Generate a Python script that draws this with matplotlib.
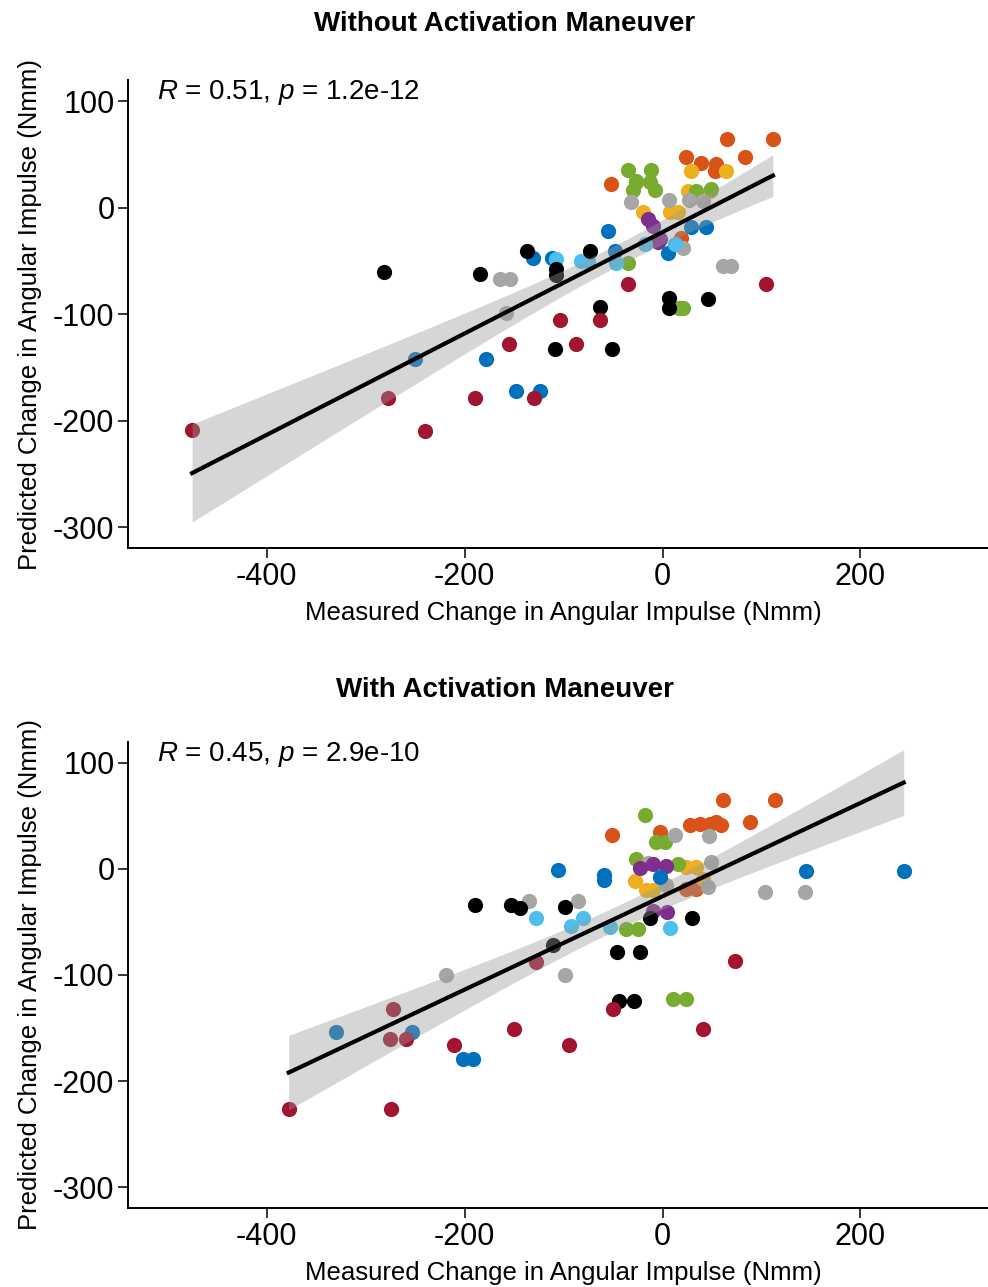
import numpy as np
import matplotlib
matplotlib.use("Agg")
import matplotlib.pyplot as plt

plt.rcParams['font.family'] = 'Liberation Sans'
plt.rcParams['mathtext.fontset'] = 'custom'
plt.rcParams['mathtext.rm'] = 'Liberation Sans'
plt.rcParams['mathtext.it'] = 'Liberation Sans:italic'
plt.rcParams['axes.unicode_minus'] = False

# colores por sujeto (paleta tipo MATLAB)
colores = {
    'naranja': '#D95319', 'amarillo': '#EDB120', 'verde': '#77AC30',
    'gris': '#A6A6A6', 'morado': '#7E2F8E', 'azul': '#0072BD',
    'celeste': '#4DBEEE', 'negro': '#000000', 'rojo': '#A2142F',
}

# ---- Sin maniobra de activacion ----
sin_x = {
    'naranja': [-51.9, 65.4, 111.5, 23.3, 39.1, 54.3, 82.9, 52.6, -26.6, 18.9],
    'amarillo': [28.3, 63.7, 25.6, 47.5, -19.9, 7.1, 15.5],
    'verde': [-35.1, -12.1, -26.6, -30.0, -13.1, -8.1, 34.1, 49.2, -35.1, 20.5, 17.0],
    'gris': [-31.6, 6.4, 26.6, 40.7, 20.5, 61.0, 69.5, -164.8, -154.7, -158.7],
    'morado': [-14.9, -9.8, -3.0, -4.8],
    'azul': [-55.3, -48.5, 5.4, 29.0, 44.2, -131.1, -111.5, -178.3, -147.9, -124.4, -250.0],
    'celeste': [-107.5, -82.2, -75.5, -46.8, -18.2, 12.1],
    'negro': [-136.8, -185.0, -73.8, -108.2, -108.2, -63.0, 6.4, 6.4, 45.8, -109.2, -50.9, -281.1],
    'rojo': [-35.1, 104.9, -103.4, -63.0, -155.7, -87.3, -189.4, -130.4, -240.6, -475.5, -277.8],
}
sin_y = {
    'naranja': [22.3, 64.7, 64.7, 48.0, 41.7, 41.1, 47.3, 34.8, 23.8, -28.0],
    'amarillo': [34.8, 34.8, 16.0, 16.0, -4.4, -4.4, -4.4],
    'verde': [35.5, 35.5, 25.4, 16.7, 23.8, 16.7, 16.0, 17.6, -52.4, -93.8, -93.8],
    'gris': [5.0, 7.2, 7.2, 6.6, -37.4, -54.6, -54.6, -67.1, -67.1, -98.5],
    'morado': [-10.6, -16.9, -29.5, -32.6],
    'azul': [-21.6, -40.5, -42.1, -18.5, -18.5, -47.3, -47.3, -141.8, -172.2, -172.2, -141.8],
    'celeste': [-48.3, -49.9, -49.9, -51.5, -34.2, -34.2],
    'negro': [-40.5, -62.4, -40.5, -57.7, -63.1, -93.2, -84.4, -93.8, -85.9, -133.0, -133.0, -60.0],
    'rojo': [-71.8, -71.8, -105.4, -105.7, -127.7, -127.7, -178.5, -178.5, -209.9, -209.2, -179.1],
}

# ---- Con maniobra de activacion ----
con_x = {
    'naranja': [-50.9, 60.7, 113.2, 88.0, 27.3, 37.4, 47.5, 54.3, 59.4, -3.0, 24.0, 34.0],
    'amarillo': [-28.3, -16.5, -9.8, 24.0, 34.0, 40.7],
    'verde': [-18.2, -6.4, 2.0, -26.6, 15.5, -36.7, -25.0, 10.4, 24.0],
    'gris': [12.1, 46.8, -14.9, 48.5, 45.8, 3.7, 103.8, 143.6, -135.2, -85.6, -218.7, -99.1],
    'morado': [-23.3, -9.8, 3.7, -9.8, 4.3],
    'azul': [-105.9, -59.4, -59.4, -3.0, -201.9, -191.8, 145.3, 243.7, -329.9, -253.1],
    'celeste': [-128.4, -92.3, -80.6, -53.6, 7.1],
    'negro': [-190.1, -153.0, -144.6, -99.1, -13.1, 30.0, -46.2, -23.3, -44.2, -29.0, -110.9],
    'rojo': [72.8, -127.7, -50.3, 40.7, -150.3, -211.3, -94.7, -272.7, -276.0, -259.2, -377.9, -274.3],
}
con_y = {
    'naranja': [32.4, 65.3, 65.3, 44.0, 41.0, 42.5, 42.5, 44.0, 41.0, 34.5, -18.8, -18.8],
    'amarillo': [-11.6, -20.3, -20.3, 1.6, 1.6, -9.4],
    'verde': [51.2, 25.1, 25.1, 9.4, 4.7, -57.0, -57.0, -122.4, -122.4],
    'gris': [32.0, 31.4, 5.4, 6.3, -17.2, -15.6, -21.9, -21.9, -29.8, -29.8, -99.8, -99.8],
    'morado': [0.7, 4.7, 3.2, -40.1, -40.8],
    'azul': [-0.9, -6.0, -10.0, -7.2, -178.8, -178.8, -2.2, -2.2, -153.7, -153.7],
    'celeste': [-46.4, -53.9, -46.4, -54.8, -55.5],
    'negro': [-34.4, -34.4, -37.0, -36.0, -46.4, -46.4, -78.4, -78.4, -124.8, -124.8, -72.1],
    'rojo': [-87.2, -87.8, -131.8, -151.2, -151.2, -165.6, -165.6, -131.8, -160.6, -160.6, -226.4, -226.4],
}

titulos = ['Without Activation Maneuver', 'With Activation Maneuver']
etiquetas = [r'$\it{R}$ = 0.51, $\it{p}$ = 1.2e-12', r'$\it{R}$ = 0.45, $\it{p}$ = 2.9e-10']

fig = plt.figure(figsize=(9.88, 12.87), dpi=100)
W, H = 988, 1287
paneles = [(128.3, 80, 999, 548.3), (128.3, 741.7, 999, 1208.3)]
titulo_y = [24, 690]

for i, (dx, dy) in enumerate([(sin_x, sin_y), (con_x, con_y)]):
    l, t, r, b = paneles[i]
    ax = fig.add_axes([l / W, 1 - b / H, (r - l) / W, (b - t) / H])
    todos_x, todos_y = [], []
    for c in colores:
        ax.scatter(dx[c], dy[c], s=120, color=colores[c], linewidths=0, zorder=2)
        todos_x += dx[c]
        todos_y += dy[c]
    x = np.array(todos_x)
    y = np.array(todos_y)

    # recta de regresion con intervalo de confianza del 95%
    n = len(x)
    m, b0 = np.polyfit(x, y, 1)
    xs = np.linspace(x.min(), x.max(), 100)
    ys = m * xs + b0
    resid = y - (m * x + b0)
    s = np.sqrt(np.sum(resid ** 2) / (n - 2))
    se = s * np.sqrt(1 / n + (xs - x.mean()) ** 2 / np.sum((x - x.mean()) ** 2))
    tval = 1.99
    ax.fill_between(xs, ys - tval * se, ys + tval * se, color='#999999', alpha=0.4,
                    linewidth=0, zorder=3)
    ax.plot(xs, ys, color='black', linewidth=3, zorder=4)

    ax.text(-511, 108, etiquetas[i], fontsize=20, ha='left', va='center')

    ax.set_xlim(-540, 340)
    ax.set_ylim(-320, 120)
    ax.set_xticks([-400, -200, 0, 200])
    ax.set_yticks([100, 0, -100, -200, -300])
    ax.tick_params(labelsize=22, length=7, width=1.1, pad=3)
    for lado in ['top', 'right']:
        ax.spines[lado].set_visible(False)
    for lado in ['left', 'bottom']:
        ax.spines[lado].set_linewidth(1.4)
    ax.set_xlabel('Measured Change in Angular Impulse (Nmm)', fontsize=18.5, labelpad=6)
    ax.set_ylabel('Predicted Change in Angular Impulse (Nmm)', fontsize=18.5, labelpad=8)

    fig.text(505 / W, 1 - titulo_y[i] / H, titulos[i], fontsize=20, fontweight='bold',
             ha='center', va='center')

fig.savefig('out.png', dpi=100)
